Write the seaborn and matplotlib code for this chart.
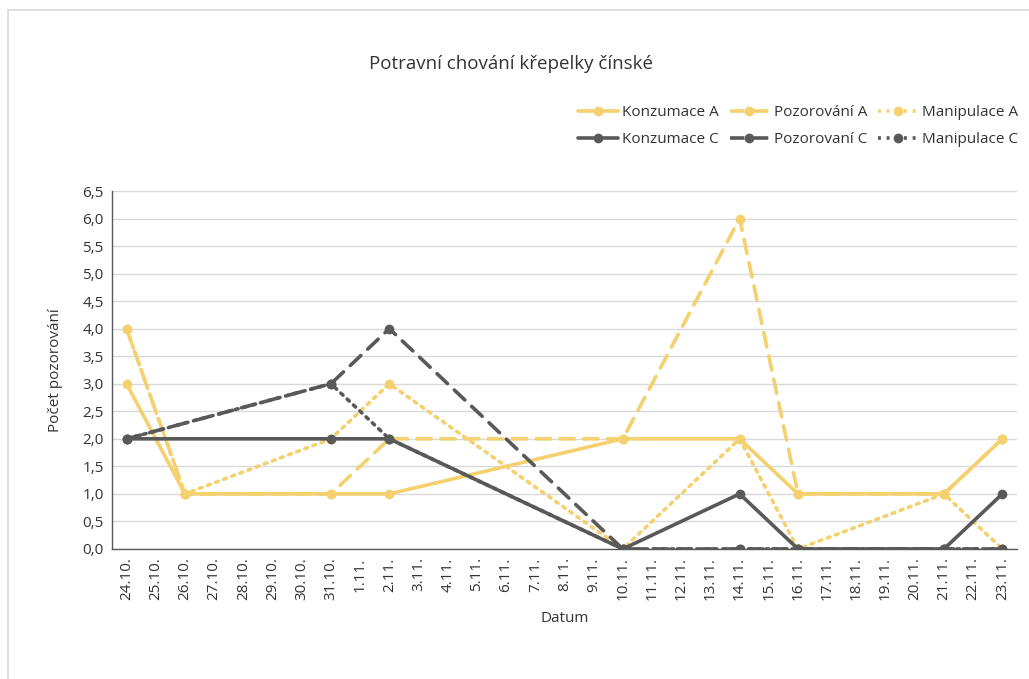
import matplotlib
matplotlib.use("Agg")
import matplotlib.pyplot as plt
from matplotlib.lines import Line2D
import seaborn as sns
import pandas as pd

# Daily category axis 24.10. – 23.11.
dates = ["24.10.", "25.10.", "26.10.", "27.10.", "28.10.", "29.10.", "30.10.", "31.10.",
         "1.11.", "2.11.", "3.11.", "4.11.", "5.11.", "6.11.", "7.11.", "8.11.", "9.11.",
         "10.11.", "11.11.", "12.11.", "13.11.", "14.11.", "15.11.", "16.11.", "17.11.",
         "18.11.", "19.11.", "20.11.", "21.11.", "22.11.", "23.11."]

# Observation days per group
days_a = ["24.10.", "26.10.", "31.10.", "2.11.", "10.11.", "14.11.", "16.11.", "21.11.", "23.11."]
days_c = ["24.10.", "31.10.", "2.11.", "10.11.", "14.11.", "16.11.", "21.11.", "23.11."]

konzumace_a = [3, 1, 1, 1, 2, 2, 1, 1, 2]
pozorovani_a = [4, 1, 1, 2, 2, 6, 1, 1, 2]
manipulace_a = [4, 1, 2, 3, 0, 2, 0, 1, 0]

konzumace_c = [2, 2, 2, 0, 1, 0, 0, 1]
pozorovani_c = [2, 3, 4, 0, 0, 0, 0, 0]
manipulace_c = [2, 3, 2, 0, 0, 0, 0, 0]

series = [
    ("Konzumace A", days_a, konzumace_a),
    ("Pozorování A", days_a, pozorovani_a),
    ("Manipulace A", days_a, manipulace_a),
    ("Konzumace C", days_c, konzumace_c),
    ("Pozorovaní C", days_c, pozorovani_c),
    ("Manipulace C", days_c, manipulace_c),
]

YELLOW = "#F4D06F"
DARK = "#595959"
TEXT = "#333333"
styles = {
    "Konzumace A": (YELLOW, "-"),
    "Pozorování A": (YELLOW, (0, (4, 2.6))),
    "Manipulace A": (YELLOW, (0, (0.8, 1.6))),
    "Konzumace C": (DARK, "-"),
    "Pozorovaní C": (DARK, (0, (4, 2.6))),
    "Manipulace C": (DARK, (0, (0.8, 1.6))),
}

sns.set_theme(style="white")
plt.rcParams["font.family"] = ["Open Sans", "DejaVu Sans"]

fig = plt.figure(figsize=(10.29, 6.79), dpi=100)
ax = fig.add_axes([0.1088, 0.1915, 0.8795, 0.5272])

rows = []
for name, days, vals in series:
    for d, v in zip(days, vals):
        rows.append({"serie": name, "pos": dates.index(d), "hodnota": v})
df = pd.DataFrame(rows)

LW = 2.6
for name, _, _ in series:
    color, ls = styles[name]
    sub = df[df["serie"] == name]
    sns.lineplot(data=sub, x="pos", y="hodnota", ax=ax, color=color, linewidth=LW,
                 linestyle=ls, marker="o", markersize=7, markeredgewidth=0,
                 sort=False, legend=False, estimator=None)
    ax.lines[-1].set_solid_capstyle("round")
    ax.lines[-1].set_dash_capstyle("round")

ax.set_xlim(-0.5, len(dates) - 0.5)
ax.set_ylim(0, 6.5)
yt = [i * 0.5 for i in range(14)]
ax.set_yticks(yt)
ax.set_yticklabels([f"{v:.1f}".replace(".", ",") for v in yt], fontsize=11, color=TEXT)
ax.set_xticks(range(len(dates)))
ax.set_xticklabels(dates, rotation=90, fontsize=11, color=TEXT)
ax.tick_params(axis="both", length=0, pad=6)

ax.grid(axis="y", color="#D9D9D9", linewidth=1)
ax.grid(axis="x", visible=False)
ax.set_axisbelow(True)
for side in ["top", "right"]:
    ax.spines[side].set_visible(False)
ax.spines["left"].set_color("#595959")
ax.spines["left"].set_linewidth(1)
ax.spines["bottom"].set_color("#595959")
ax.spines["bottom"].set_linewidth(1)

ax.set_xlabel("Datum", fontsize=11, color=TEXT, labelpad=8)
ax.set_ylabel("Počet pozorování", fontsize=11, color=TEXT, labelpad=14)

fig.text(0.497, 0.906, "Potravní chování křepelky čínské", ha="center", va="center",
         fontsize=13.5, color=TEXT)

# Light chart-area frame along the top and left edges
fig.add_artist(Line2D([0.0078, 1.0], [0.9853, 0.9853], transform=fig.transFigure,
                      color="#D9D9D9", linewidth=1.2))
fig.add_artist(Line2D([0.0078, 0.0078], [0.0, 0.9853], transform=fig.transFigure,
                      color="#D9D9D9", linewidth=1.2))

handles = []
order = [0, 3, 1, 4, 2, 5]
for i in order:
    name = series[i][0]
    color, ls = styles[name]
    handles.append(Line2D([], [], color=color, linestyle=ls, linewidth=LW, marker="o",
                          markersize=7, markeredgewidth=0, label=name))
fig.legend(handles=handles, ncol=3, loc="upper right", bbox_to_anchor=(1.003, 0.865),
           frameon=False, fontsize=11, handlelength=2.6, handletextpad=0.3,
           columnspacing=0.7, labelspacing=0.75, labelcolor=TEXT)

fig.savefig("out.png", dpi=100, facecolor="white")
